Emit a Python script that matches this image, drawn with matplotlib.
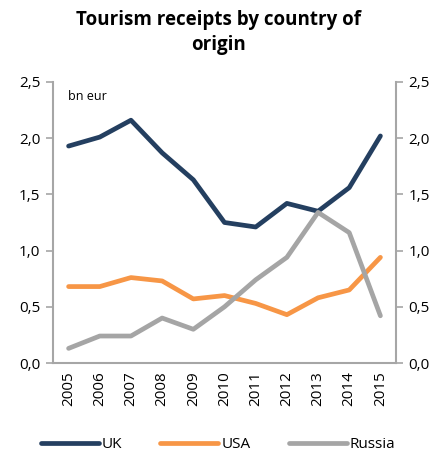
import matplotlib
matplotlib.use('Agg')
import matplotlib.pyplot as plt

plt.rcParams['font.family'] = ['Open Sans', 'DejaVu Sans']

years = ['2005', '2006', '2007', '2008', '2009', '2010',
         '2011', '2012', '2013', '2014', '2015']
uk = [1.93, 2.01, 2.16, 1.87, 1.63, 1.25, 1.21, 1.42, 1.35, 1.56, 2.02]
usa = [0.68, 0.68, 0.76, 0.73, 0.57, 0.60, 0.53, 0.43, 0.58, 0.65, 0.94]
russia = [0.13, 0.24, 0.24, 0.40, 0.30, 0.50, 0.74, 0.94, 1.34, 1.16, 0.42]
yticks = [0.0, 0.5, 1.0, 1.5, 2.0, 2.5]
ytick_labels = ['0,0', '0,5', '1,0', '1,5', '2,0', '2,5']

grey = '#a6a6a6'

fig = plt.figure(figsize=(4.36, 4.61), dpi=100)
ax = fig.add_axes([53/436, 98/461, 343/436, 281/461])
x = range(len(years))
ax.plot(x, uk, color='#243f60', lw=3.4, label='UK', solid_capstyle='round')
ax.plot(x, usa, color='#f79646', lw=3.4, label='USA', solid_capstyle='round')
ax.plot(x, russia, color='#a5a5a5', lw=3.4, label='Russia', solid_capstyle='round')

ax.set_xlim(-0.5, 10.5)
ax.set_ylim(0, 2.5)
ax.set_xticks(list(x))
ax.set_xticklabels(years, rotation=90, fontsize=11)
ax.tick_params(axis='x', length=0, pad=6)
ax.set_yticks(yticks)
ax.set_yticklabels(ytick_labels, fontsize=11)
ax.tick_params(axis='y', length=5, color=grey, width=1.2, pad=4)

ax2 = ax.twinx()
ax2.set_ylim(0, 2.5)
ax2.set_yticks(yticks)
ax2.set_yticklabels(ytick_labels, fontsize=11)
ax2.tick_params(axis='y', length=5, color=grey, width=1.2, pad=4)

for a in (ax, ax2):
    a.spines['top'].set_visible(False)
    for s in ('left', 'right', 'bottom'):
        a.spines[s].set_color(grey)
        a.spines[s].set_linewidth(1.5)
ax2.spines['bottom'].set_visible(False)
ax2.spines['left'].set_visible(False)
ax.spines['right'].set_visible(False)

ax.text(0.045, 0.95, 'bn eur', transform=ax.transAxes, fontsize=9, va='center')

fig.text(0.5, 0.93, 'Tourism receipts by country of\norigin', ha='center',
         va='center', fontsize=13.5, fontweight='bold', linespacing=1.3)

fig.legend(loc='lower center', bbox_to_anchor=(0.5, -0.01), ncol=3, frameon=False,
           fontsize=11, handlelength=3.8, columnspacing=2.5, handletextpad=0.2)

fig.savefig('out.png', dpi=100)
